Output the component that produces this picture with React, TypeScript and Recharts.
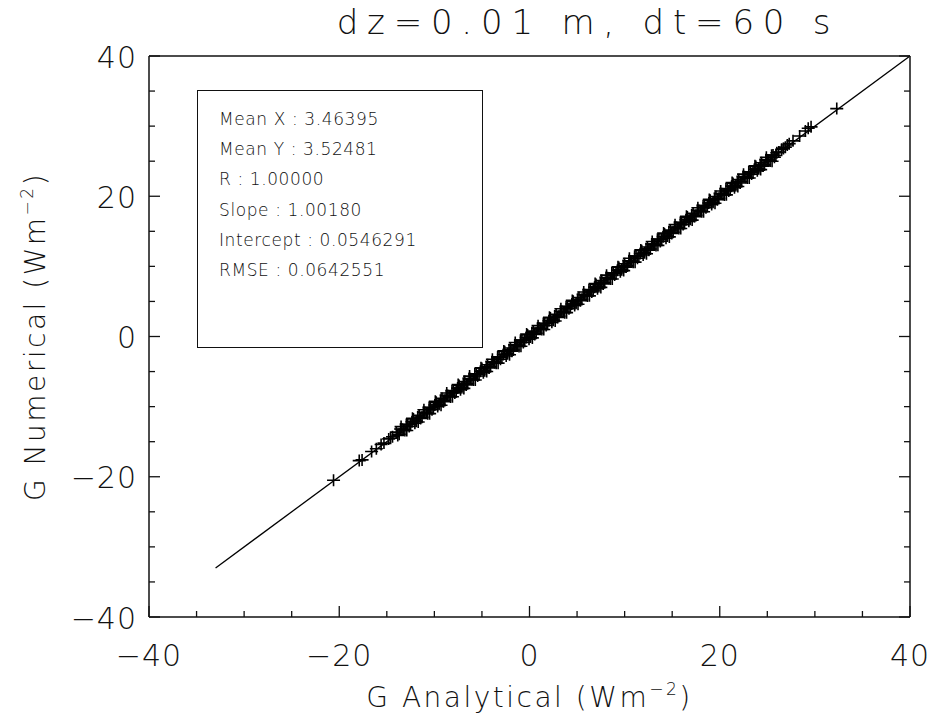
import React from 'react';
import { ScatterChart, Scatter, XAxis, YAxis, ReferenceLine, Label } from 'recharts';

const FONT = '"DejaVu Sans", "Liberation Sans", sans-serif';
const INK = '#111';

// axis setup
const axisTicks = [-40, -35, -30, -25, -20, -15, -10, -5, 0, 5, 10, 15, 20, 25, 30, 35, 40];
const axisDomain = [-40, 40];

const titleText = 'dz=0.01 m, dt=60 s';
const xTitle = 'G Analytical (Wm';
const yTitle = 'G Numerical (Wm';

const statsLines = [
  'Mean X : 3.46395',
  'Mean Y : 3.52481',
  'R : 1.00000',
  'Slope : 1.00180',
  'Intercept : 0.0546291',
  'RMSE : 0.0642551',
];

// 1:1 line drawn in the figure
const oneToOne = [{ x: -33, y: -33 }, { x: 40, y: 40 }];

// G analytical (x) vs G numerical (y)
const analyticalG = [
  -20.6, -17.9, -17.6, -16.6, -16.1, -15.6, -15.3, -14.8, -14.4,
  -14.0, -13.7, -13.4, -13.1, -12.8, -12.5, -12.2, -11.9, -11.6, -11.3,
  -11.0, -10.7, -10.4, -10.1, -9.8, -9.5, -9.2, -8.9, -8.6, -8.3,
  -8.0, -7.7, -7.4, -7.1, -6.8, -6.5, -6.2, -5.9, -5.6, -5.3,
  -5.0, -4.7, -4.4, -4.1, -3.8, -3.5, -3.2, -2.9, -2.6, -2.3,
  -2.0, -1.7, -1.4, -1.1, -0.8, -0.5, -0.2, 0.1, 0.4, 0.7,
  1.0, 1.3, 1.6, 1.9, 2.2, 2.5, 2.8, 3.1, 3.4, 3.7,
  4.0, 4.3, 4.6, 4.9, 5.2, 5.5, 5.8, 6.1, 6.4, 6.7,
  7.0, 7.3, 7.6, 7.9, 8.2, 8.5, 8.8, 9.1, 9.4, 9.7,
  10.0, 10.3, 10.6, 10.9, 11.2, 11.5, 11.8, 12.1, 12.4, 12.7,
  13.0, 13.3, 13.6, 13.9, 14.2, 14.5, 14.8, 15.1, 15.4, 15.7,
  16.0, 16.3, 16.6, 16.9, 17.2, 17.5, 17.8, 18.1, 18.4, 18.7,
  19.0, 19.3, 19.6, 19.9, 20.2, 20.5, 20.8, 21.1, 21.4, 21.7,
  22.0, 22.3, 22.6, 22.9, 23.2, 23.5, 23.8, 24.1, 24.4, 24.7,
  25.0, 25.3, 25.6, 25.9,
  26.2, 26.5, 26.9, 27.3, 27.7, 28.4, 29.0, 29.3, 29.6, 32.3,
];
const numericalG = [
  -20.5, -17.7, -17.6, -16.4, -16.0, -15.4, -15.2, -14.6, -14.3,
  -13.63, -13.93, -13.23, -13.41, -12.51, -12.59, -11.77, -12.07, -11.23, -11.53,
  -10.83, -11.01, -10.11, -10.19, -9.37, -9.67, -8.83, -9.13, -8.43, -8.61,
  -7.71, -7.79, -6.97, -7.27, -6.43, -6.73, -6.03, -6.21, -5.31, -5.39,
  -4.57, -4.87, -4.03, -4.33, -3.63, -3.81, -2.91, -2.99, -2.17, -2.47,
  -1.63, -1.93, -1.23, -1.41, -0.51, -0.59, 0.23, -0.07, 0.77, 0.47,
  1.17, 0.99, 1.89, 1.81, 2.63, 2.33, 3.17, 2.87, 3.57, 3.39,
  4.29, 4.21, 5.03, 4.73, 5.57, 5.27, 5.97, 5.79, 6.69, 6.61,
  7.43, 7.13, 7.97, 7.67, 8.37, 8.19, 9.09, 9.01, 9.83, 9.53,
  10.37, 10.07, 10.77, 10.59, 11.49, 11.41, 12.23, 11.93, 12.77, 12.47,
  13.17, 12.99, 13.89, 13.81, 14.63, 14.33, 15.17, 14.87, 15.57, 15.39,
  16.29, 16.21, 17.03, 16.73, 17.57, 17.27, 17.97, 17.79, 18.69, 18.61,
  19.43, 19.13, 19.97, 19.67, 20.37, 20.19, 21.09, 21.01, 21.83, 21.53,
  22.37, 22.07, 22.77, 22.59, 23.49, 23.41, 24.23, 23.93, 24.77, 24.47,
  25.17, 25.01, 25.89, 25.81,
  26.3, 26.7, 27.0, 27.5, 27.9, 28.6, 29.3, 29.7, 29.9, 32.5,
];

// second pass of samples filling the dense band
const analyticalG2 = [
  -14.6, -13.85, -13.55, -13.25, -12.95, -12.65, -12.35, -12.05, -11.75, -11.45,
  -11.15, -10.85, -10.55, -10.25, -9.95, -9.65, -9.35, -9.05, -8.75, -8.45,
  -8.15, -7.85, -7.55, -7.25, -6.95, -6.65, -6.35, -6.05, -5.75, -5.45,
  -5.15, -4.85, -4.55, -4.25, -3.95, -3.65, -3.35, -3.05, -2.75, -2.45,
  -2.15, -1.85, -1.55, -1.25, -0.95, -0.65, -0.35, -0.05, 0.25, 0.55,
  0.85, 1.15, 1.45, 1.75, 2.05, 2.35, 2.65, 2.95, 3.25, 3.55,
  3.85, 4.15, 4.45, 4.75, 5.05, 5.35, 5.65, 5.95, 6.25, 6.55,
  6.85, 7.15, 7.45, 7.75, 8.05, 8.35, 8.65, 8.95, 9.25, 9.55,
  9.85, 10.15, 10.45, 10.75, 11.05, 11.35, 11.65, 11.95, 12.25, 12.55,
  12.85, 13.15, 13.45, 13.75, 14.05, 14.35, 14.65, 14.95, 15.25, 15.55,
  15.85, 16.15, 16.45, 16.75, 17.05, 17.35, 17.65, 17.95, 18.25, 18.55,
  18.85, 19.15, 19.45, 19.75, 20.05, 20.35, 20.65, 20.95, 21.25, 21.55,
  21.85, 22.15, 22.45, 22.75, 23.05, 23.35, 23.65, 23.95, 24.25, 24.55,
  24.85, 25.15, 25.45, 25.75, 26.0, 26.7, 27.1,
];
const numericalG2 = [
  -14.5, -14.10, -13.20, -13.30, -12.54, -12.84, -12.16, -12.38, -11.48, -11.70,
  -10.80, -10.90, -10.14, -10.44, -9.76, -9.98, -9.08, -9.30, -8.40, -8.50,
  -7.74, -8.04, -7.36, -7.58, -6.68, -6.90, -6.00, -6.10, -5.34, -5.64,
  -4.96, -5.18, -4.28, -4.50, -3.60, -3.70, -2.94, -3.24, -2.56, -2.78,
  -1.88, -2.10, -1.20, -1.30, -0.54, -0.84, -0.16, -0.38, 0.52, 0.30,
  1.20, 1.10, 1.86, 1.56, 2.24, 2.02, 2.92, 2.70, 3.60, 3.50,
  4.26, 3.96, 4.64, 4.42, 5.32, 5.10, 6.00, 5.90, 6.66, 6.36,
  7.04, 6.82, 7.72, 7.50, 8.40, 8.30, 9.06, 8.76, 9.44, 9.22,
  10.12, 9.90, 10.80, 10.70, 11.46, 11.16, 11.84, 11.62, 12.52, 12.30,
  13.20, 13.10, 13.86, 13.56, 14.24, 14.02, 14.92, 14.70, 15.60, 15.50,
  16.26, 15.96, 16.64, 16.42, 17.32, 17.10, 18.00, 17.90, 18.66, 18.36,
  19.04, 18.82, 19.72, 19.50, 20.40, 20.30, 21.06, 20.76, 21.44, 21.22,
  22.12, 21.90, 22.80, 22.70, 23.46, 23.16, 23.84, 23.62, 24.52, 24.30,
  25.20, 25.10, 25.86, 25.56, 26.2, 26.8, 27.3,
];

// outer edge samples of the band
const analyticalG3 = [
  -13.5, -12.9, -12.3, -11.7, -11.1, -10.5, -9.9, -9.3, -8.7, -8.1, -7.5,
  -6.9, -6.3, -5.7, -5.1, -4.5, -3.9, -3.3, -2.7, -2.1, -1.5, -0.9,
  -0.3, 0.3, 0.9, 1.5, 2.1, 2.7, 3.3, 3.9, 4.5, 5.1, 5.7,
  6.3, 6.9, 7.5, 8.1, 8.7, 9.3, 9.9, 10.5, 11.1, 11.7, 12.3,
  12.9, 13.5, 14.1, 14.7, 15.3, 15.9, 16.5, 17.1, 17.7, 18.3, 18.9,
  19.5, 20.1, 20.7, 21.3, 21.9, 22.5, 23.1, 23.7, 24.3, 24.9, 25.5,
];
const numericalG3 = [
  -12.85, -13.40, -11.65, -12.20, -10.45, -11.00, -9.25, -9.80, -8.05, -8.60, -6.85,
  -7.40, -5.65, -6.20, -4.45, -5.00, -3.25, -3.80, -2.05, -2.60, -0.85, -1.40,
  0.35, -0.20, 1.55, 1.00, 2.75, 2.20, 3.95, 3.40, 5.15, 4.60, 6.35,
  5.80, 7.55, 7.00, 8.75, 8.20, 9.95, 9.40, 11.15, 10.60, 12.35, 11.80,
  13.55, 13.00, 14.75, 14.20, 15.95, 15.40, 17.15, 16.60, 18.35, 17.80, 19.55,
  19.00, 20.75, 20.20, 21.95, 21.40, 23.15, 22.60, 24.35, 23.80, 25.55, 25.00,
];

const points = [
  ...analyticalG.map((x, i) => ({ x, y: numericalG[i] })),
  ...analyticalG2.map((x, i) => ({ x, y: numericalG2[i] })),
  ...analyticalG3.map((x, i) => ({ x, y: numericalG3[i] })),
];

const fmt = (v: number) => (v < 0 ? `\u2212${-v}` : `${v}`);

// IDL style ticks: pointing inwards, major every 20, minor every 5
const InTick = ({ x, y, payload, side }: any) => {
  const v = payload.value;
  const major = v % 20 === 0;
  const len = major ? 11 : 6;
  let d = '';
  if (side === 'bottom') d = `M${x},${y}V${y - len}`;
  if (side === 'top') d = `M${x},${y}V${y + len}`;
  if (side === 'left') d = `M${x},${y}H${x + len}`;
  if (side === 'right') d = `M${x},${y}H${x - len}`;
  const txt = { fill: INK, fontFamily: FONT, fontSize: 30, fontWeight: 200, letterSpacing: 1 };
  return (
    <g>
      <path d={d} stroke={INK} strokeWidth={1.3} />
      {side === 'bottom' && major && (
        <text x={x} y={y + 38} textAnchor="middle" dominantBaseline="central" {...txt}>{fmt(v)}</text>
      )}
      {side === 'left' && major && (
        <text x={x - 12} y={y + 1} textAnchor="end" dominantBaseline="central" {...txt}>{fmt(v)}</text>
      )}
    </g>
  );
};

const PlusMark = ({ cx, cy }: any) => (
  <path d={`M${cx - 6.5},${cy}H${cx + 6.5}M${cx},${cy - 6}V${cy + 6}`} stroke="#000" strokeWidth={1.6} fill="none" />
);

const labelStyle = { fill: INK, fontFamily: FONT, fontSize: 28, fontWeight: 200, letterSpacing: 2.5 };

const XTitle = ({ viewBox }: any) => (
  <text x={viewBox.x + viewBox.width / 2} y={viewBox.y + 90} textAnchor="middle" {...labelStyle}>
    {xTitle}
    <tspan dy={-12} fontSize={17}>{'\u22122'}</tspan>
    <tspan dy={12}>)</tspan>
  </text>
);

const YTitle = ({ viewBox }: any) => {
  const cx = 45;
  const cy = viewBox.y + viewBox.height / 2;
  return (
    <text x={cx} y={cy} textAnchor="middle" transform={`rotate(-90 ${cx} ${cy})`} {...labelStyle}>
      {yTitle}
      <tspan dy={-12} fontSize={17}>{'\u22122'}</tspan>
      <tspan dy={12}>)</tspan>
    </text>
  );
};

export default function App() {
  return (
    <div style={{ position: 'absolute', left: 0, top: 0, width: 935, height: 720, background: '#fff' }}>
      <div
        style={{
          position: 'absolute', left: 588, top: 1, transform: 'translateX(-50%)', whiteSpace: 'nowrap',
          fontFamily: FONT, fontSize: 34, fontWeight: 200, letterSpacing: 8.8, color: INK, lineHeight: '42px',
        }}
      >
        {titleText}
      </div>
      <ScatterChart width={935} height={720} margin={{ top: 46, right: 20, bottom: 43, left: 69 }}>
        <XAxis
          type="number" dataKey="x" domain={axisDomain} ticks={axisTicks} interval={0}
          height={60} tickSize={0} tickMargin={0} tickLine={false}
          axisLine={{ stroke: INK, strokeWidth: 1.5 }}
          tick={(p: any) => <InTick {...p} side="bottom" />}
          allowDataOverflow
        >
          <Label content={<XTitle />} />
        </XAxis>
        <XAxis
          xAxisId="top" orientation="top" type="number" domain={axisDomain} ticks={axisTicks} interval={0}
          height={10} tickSize={0} tickMargin={0} tickLine={false}
          axisLine={{ stroke: INK, strokeWidth: 1.5 }}
          tick={(p: any) => <InTick {...p} side="top" />}
          allowDataOverflow
        />
        <YAxis
          type="number" dataKey="y" domain={axisDomain} ticks={axisTicks} interval={0}
          width={80} tickSize={0} tickMargin={0} tickLine={false}
          axisLine={{ stroke: INK, strokeWidth: 1.5 }}
          tick={(p: any) => <InTick {...p} side="left" />}
          allowDataOverflow
        >
          <Label content={<YTitle />} />
        </YAxis>
        <YAxis
          yAxisId="right" orientation="right" type="number" domain={axisDomain} ticks={axisTicks} interval={0}
          width={5} tickSize={0} tickMargin={0} tickLine={false}
          axisLine={{ stroke: INK, strokeWidth: 1.5 }}
          tick={(p: any) => <InTick {...p} side="right" />}
          allowDataOverflow
        />
        <ReferenceLine segment={oneToOne} stroke="#000" strokeWidth={1.3} ifOverflow="visible" />
        <Scatter data={points} shape={<PlusMark />} isAnimationActive={false} />
      </ScatterChart>
      <div
        style={{
          position: 'absolute', left: 197, top: 90, width: 286, height: 258, border: '1.3px solid #111',
          boxSizing: 'border-box', background: '#fff',
        }}
      >
        {statsLines.map((t, i) => (
          <div
            key={t}
            style={{
              position: 'absolute', left: 21, top: 17 + i * 30.2, whiteSpace: 'nowrap',
              fontFamily: FONT, fontSize: 17, fontWeight: 200, letterSpacing: 0.6, color: INK, lineHeight: '22px',
            }}
          >
            {t}
          </div>
        ))}
      </div>
    </div>
  );
}
